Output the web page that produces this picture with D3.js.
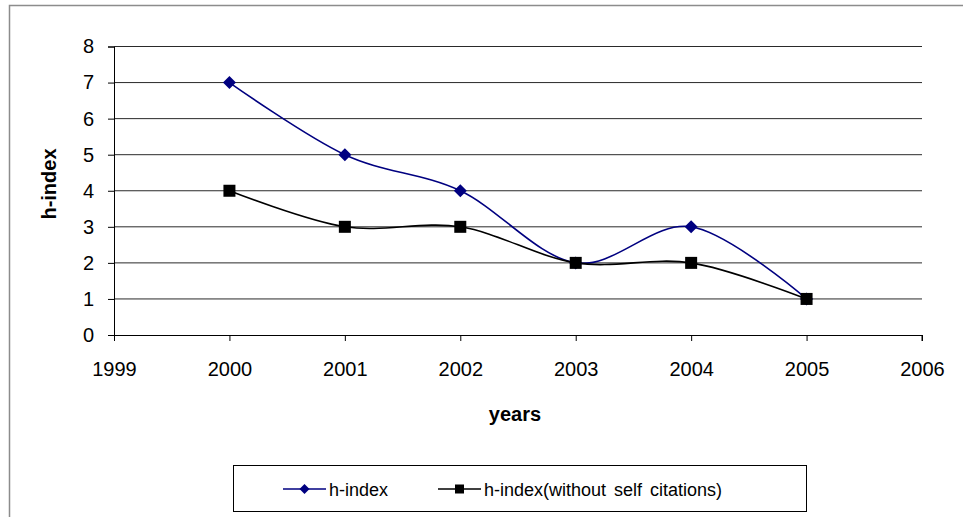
<!DOCTYPE html>
<html>
<head>
<meta charset="utf-8">
<script src="https://cdn.jsdelivr.net/npm/d3@7"></script>
<style>
  html, body { margin: 0; padding: 0; background: #fff; }
  svg { display: block; font-family: Arial, "Liberation Sans", sans-serif; }
</style>
</head>
<body>
<svg id="chart" width="963" height="517"></svg>
<script>
const years = [2000, 2001, 2002, 2003, 2004, 2005];
const hIndex = [7, 5, 4, 2, 3, 1];
const hIndexNoSelf = [4, 3, 3, 2, 2, 1];
const xTicks = [1999, 2000, 2001, 2002, 2003, 2004, 2005, 2006];
const yTicks = [0, 1, 2, 3, 4, 5, 6, 7, 8];
const seriesNames = ["h-index", "h-index(without self citations)"];
const xTitle = "years";
const yTitle = "h-index";

const svg = d3.select("#chart");

// outer chart border (extends past the window edges, as in the reference)
svg.append("rect")
  .attr("x", 9.5).attr("y", 5.5)
  .attr("width", 1000).attr("height", 600)
  .attr("fill", "#fff").attr("stroke", "#8c8c8c").attr("stroke-width", 1.5);

const x = d3.scaleLinear().domain([1999, 2006]).range([114, 922]);
const y = d3.scaleLinear().domain([0, 8]).range([335, 46.5]);

// gridlines
svg.append("g").selectAll("line").data(yTicks.filter(d => d > 0)).join("line")
  .attr("x1", x(1999)).attr("x2", x(2006))
  .attr("y1", d => y(d)).attr("y2", d => y(d))
  .attr("stroke", "#2a2a2a").attr("stroke-width", 1);

// y axis
const yAxis = d3.axisLeft(y).tickValues(yTicks).tickSize(6).tickPadding(14).tickFormat(d3.format("d"));
const gy = svg.append("g").attr("transform", `translate(${x(1999)},0)`).call(yAxis);
gy.select(".domain").attr("stroke", "#000").attr("stroke-width", 1);
gy.selectAll(".tick line").attr("stroke", "#000");
gy.selectAll("text").attr("font-size", 20).attr("fill", "#000")
  .attr("font-family", "Arial, 'Liberation Sans', sans-serif");

// x axis
const xAxis = d3.axisBottom(x).tickValues(xTicks).tickSize(6).tickPadding(21).tickFormat(d3.format("d"));
const gx = svg.append("g").attr("transform", `translate(0,${y(0)})`).call(xAxis);
gx.select(".domain").attr("stroke", "#000").attr("stroke-width", 1).attr("d", `M${x(1999)},0.5H${x(2006)}V6`);
gx.selectAll(".tick line").attr("stroke", "#000");
gx.selectAll("text").attr("font-size", 20).attr("fill", "#000")
  .attr("font-family", "Arial, 'Liberation Sans', sans-serif");

// axis titles
svg.append("text").attr("x", 515).attr("y", 421).attr("text-anchor", "middle")
  .attr("font-size", 20).attr("font-weight", "bold").text(xTitle);
svg.append("text").attr("transform", "translate(56,184) rotate(-90)").attr("text-anchor", "middle")
  .attr("font-size", 20).attr("font-weight", "bold").text(yTitle);

// lines
const line = d3.line().x(d => x(d[0])).y(d => y(d[1])).curve(d3.curveCardinal.tension(0));
const d1 = years.map((yr, i) => [yr, hIndex[i]]);
const d2 = years.map((yr, i) => [yr, hIndexNoSelf[i]]);

svg.append("path").datum(d1).attr("d", line).attr("fill", "none")
  .attr("stroke", "#000080").attr("stroke-width", 1.6);
svg.append("path").datum(d2).attr("d", line).attr("fill", "none")
  .attr("stroke", "#000").attr("stroke-width", 1.6);

svg.append("g").selectAll("path").data(d1).join("path")
  .attr("transform", d => `translate(${x(d[0])},${y(d[1])})`)
  .attr("d", "M0,-6.5L6.5,0L0,6.5L-6.5,0Z")
  .attr("fill", "#000080");

svg.append("g").selectAll("rect").data(d2).join("rect")
  .attr("x", d => x(d[0]) - 6).attr("y", d => y(d[1]) - 6)
  .attr("width", 12).attr("height", 12).attr("fill", "#000");

// legend
const lg = svg.append("g");
lg.append("rect").attr("x", 233.5).attr("y", 465.5).attr("width", 573).attr("height", 46)
  .attr("fill", "#fff").attr("stroke", "#000").attr("stroke-width", 1);

const legendItems = [
  { name: seriesNames[0], color: "#000080", x0: 283, marker: "diamond" },
  { name: seriesNames[1], color: "#000", x0: 438, marker: "square" }
];
const ly = 489;
legendItems.forEach(it => {
  lg.append("line").attr("x1", it.x0).attr("x2", it.x0 + 43).attr("y1", ly).attr("y2", ly)
    .attr("stroke", it.color).attr("stroke-width", 1.6);
  const cx = it.x0 + 21.5;
  if (it.marker === "diamond") {
    lg.append("path").attr("transform", `translate(${cx},${ly})`)
      .attr("d", "M0,-5L5,0L0,5L-5,0Z").attr("fill", it.color);
  } else {
    lg.append("rect").attr("x", cx - 4.5).attr("y", ly - 4.5).attr("width", 9).attr("height", 9).attr("fill", it.color);
  }
  lg.append("text").attr("x", it.x0 + 46).attr("y", ly + 7).attr("font-size", 18).attr("fill", "#000")
    .attr("word-spacing", 3).text(it.name);
});
</script>
</body>
</html>
